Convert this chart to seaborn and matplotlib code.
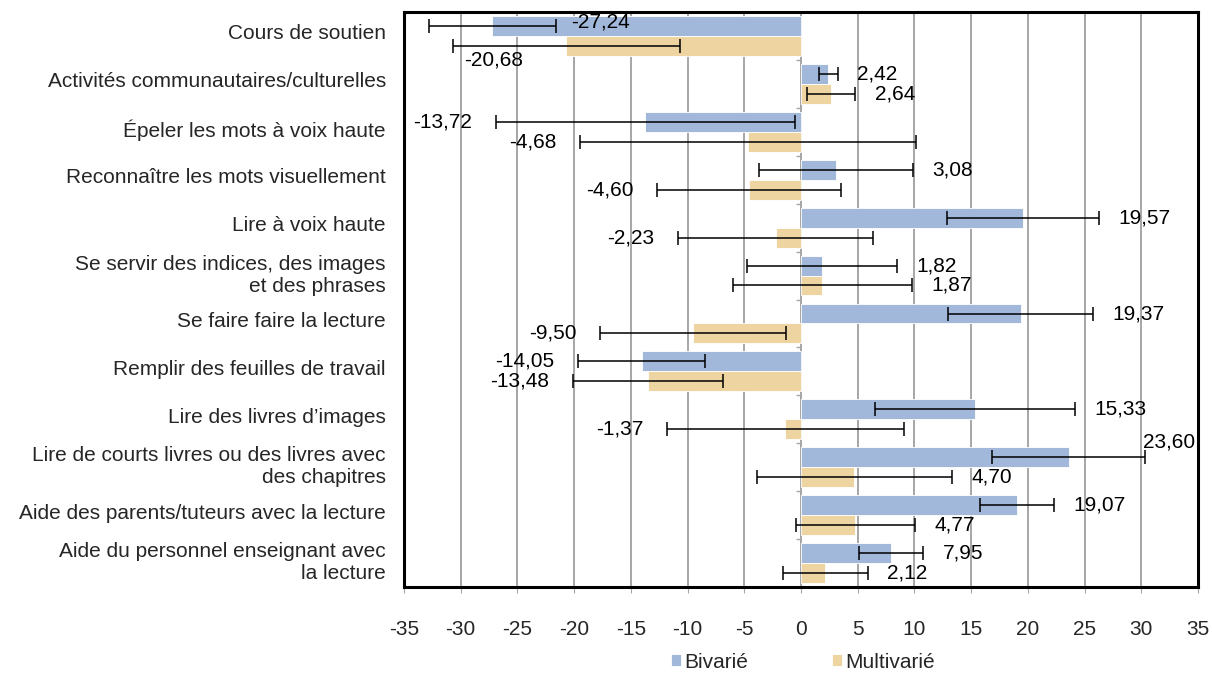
import matplotlib
matplotlib.use("Agg")
import matplotlib.pyplot as plt
import matplotlib.transforms as mtransforms
import pandas as pd
import seaborn as sns

categories = [
    "Cours de soutien",
    "Activités communautaires/culturelles",
    "Épeler les mots à voix haute",
    "Reconnaître les mots visuellement",
    "Lire à voix haute",
    "Se servir des indices, des images\net des phrases",
    "Se faire faire la lecture",
    "Remplir des feuilles de travail",
    "Lire des livres d’images",
    "Lire de courts livres ou des livres avec\ndes chapitres",
    "Aide des parents/tuteurs avec la lecture",
    "Aide du personnel enseignant avec\nla lecture",
]
series = ["Bivarié", "Multivarié"]
bivarie = [-27.24, 2.42, -13.72, 3.08, 19.57, 1.82, 19.37, -14.05, 15.33, 23.60, 19.07, 7.95]
multivarie = [-20.68, 2.64, -4.68, -4.60, -2.23, 1.87, -9.50, -13.48, -1.37, 4.70, 4.77, 2.12]
# half-width of the confidence intervals
err_bivarie = [5.6, 0.8, 13.2, 6.8, 6.7, 6.6, 6.4, 5.6, 8.85, 6.75, 3.25, 2.8]
err_multivarie = [10.0, 2.15, 14.8, 8.1, 8.6, 7.9, 8.2, 6.6, 10.45, 8.6, 5.25, 3.75]

colors = ["#A2B8DA", "#EDD4A1"]

df = pd.DataFrame({
    "categorie": categories * 2,
    "modele": [series[0]] * len(categories) + [series[1]] * len(categories),
    "valeur": bivarie + multivarie,
})

sns.set_style("white")
plt.rcParams["font.family"] = ["Liberation Sans", "DejaVu Sans"]
plt.rcParams["axes.unicode_minus"] = False

fig = plt.figure(figsize=(12.12, 6.73), dpi=100)
ax = fig.add_axes([404 / 1212, 1 - 587 / 673, (1198 - 404) / 1212, (587 - 12) / 673])

for x in range(-35, 40, 5):
    ax.axvline(x, color="#A6A6A6", lw=1.4, zorder=0)

sns.barplot(data=df, y="categorie", x="valeur", hue="modele", orient="h",
            palette=colors, width=0.83, saturation=1, errorbar=None,
            edgecolor="white", linewidth=0.6, ax=ax, zorder=2)
ax.get_legend().remove()

# small separator ticks on the zero axis
n = len(categories)
ax.hlines([k - 0.5 for k in range(n + 1)], -0.4, 0, color="#A6A6A6", lw=1.0, zorder=1)

# overrides for labels Excel placed by hand: (dx pt, dy pt, ha, anchor side)
overrides = {
    (0, 0): (11, 3, "left", +1),
    (1, 0): (8, -10, "left", -1),
    (0, 9): (17, 11, "center", +1),
}

for s, (vals, errs) in enumerate([(bivarie, err_bivarie), (multivarie, err_multivarie)]):
    bars = ax.containers[s]
    ys = [p.get_y() + p.get_height() / 2 for p in bars.patches]
    ax.errorbar(vals, ys, xerr=errs, fmt="none", ecolor="black",
                elinewidth=1.1, capsize=5, capthick=1.1, zorder=3)
    for i, (v, e, y) in enumerate(zip(vals, errs, ys)):
        txt = f"{v:.2f}".replace(".", ",")
        if (s, i) in overrides:
            dx, dy, ha, side = overrides[(s, i)]
            x = v + side * e
        elif v >= 0:
            x, dx, dy, ha = v + e, 14, 0, "left"
        else:
            x, dx, dy, ha = v - e, -17, 0, "right"
        ax.annotate(txt, (x, y), xytext=(dx, dy), textcoords="offset points",
                    ha=ha, va="center", fontsize=15, color="black", zorder=4)

ax.set_xlim(-35, 35)
ax.set_ylim(n - 0.5, -0.5)
ax.set_xticks(range(-35, 40, 5))
ax.set_xlabel("")
ax.set_ylabel("")
ax.tick_params(axis="x", which="both", direction="out", length=4, width=0.8,
               color="#A6A6A6", pad=20, labelsize=15, bottom=True)
ax.tick_params(axis="y", length=0, pad=13, labelsize=15)
# category labels sit a little above the row centre in the original
shift = mtransforms.ScaledTranslation(0, 4 / 100, fig.dpi_scale_trans)
for lbl in ax.get_yticklabels():
    lbl.set_transform(lbl.get_transform() + shift)
for sp in ax.spines.values():
    sp.set_visible(True)
    sp.set_color("black")
    sp.set_linewidth(2.2)

handles, labels = ax.get_legend_handles_labels()
fig.legend(handles, labels, loc="center", bbox_to_anchor=(803 / 1212, 1 - 662 / 673),
           ncol=2, frameon=False, fontsize=15, handlelength=0.5, handleheight=0.5,
           handletextpad=0.15, columnspacing=4.0)

fig.savefig("out.png", dpi=100)
